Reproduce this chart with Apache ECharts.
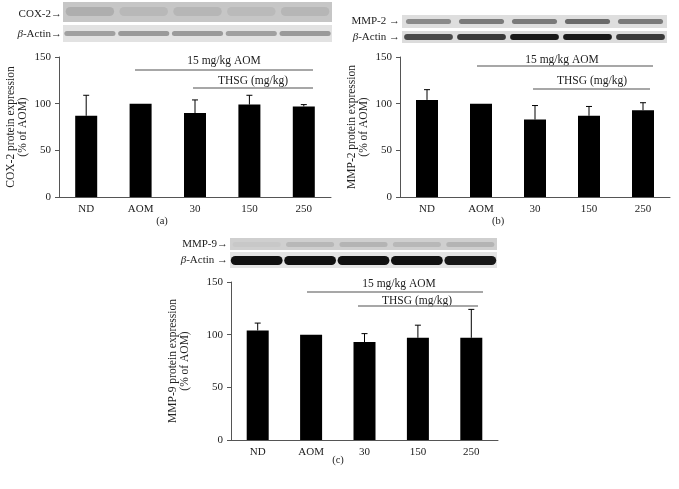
<!DOCTYPE html>
<html><head><meta charset="utf-8">
<script src="https://cdn.jsdelivr.net/npm/echarts@6/dist/echarts.min.js"></script>
<style>html,body{margin:0;padding:0;background:#fff}#c{width:679px;height:489px}</style>
</head><body><div id="c"></div>
<script>
var categories = ['ND', 'AOM', '30', '150', '250'];
var cox2Mean = [87, 100, 90, 99, 97];
var cox2Upper = [109, null, 104, 109, 99];
var mmp2Mean = [104, 100, 83, 87, 93];
var mmp2Upper = [115, null, 98, 97, 101];
var mmp9Mean = [104, 100, 93, 97, 97];
var mmp9Upper = [111, null, 101, 109, 124];
var yTicks = [0, 50, 100, 150];
var yNames = ['COX-2 protein expression\n(% of AOM)', 'MMP-2 protein expression\n(% of AOM)', 'MMP-9 protein expression\n(% of AOM)'];
var panelLabels = ['(a)', '(b)', '(c)'];
var blotLabels = [['COX-2\u2192', '{i|\u03b2}-Actin\u2192'], ['MMP-2 \u2192', '{i|\u03b2}-Actin \u2192'], ['MMP-9\u2192', '{i|\u03b2}-Actin \u2192']];

var FONT = '"Liberation Serif", "DejaVu Serif", serif';
var chart = echarts.init(document.getElementById('c'), null, {renderer: 'canvas'});

var grids = [
  {left: 59, top: 57, width: 272, height: 140},
  {left: 400, top: 57, width: 270, height: 140},
  {left: 231, top: 282, width: 267, height: 158}
];
var nameGaps = [30, 30, 40];
var means = [cox2Mean, mmp2Mean, mmp9Mean];
var uppers = [cox2Upper, mmp2Upper, mmp9Upper];

var xAxes = [], yAxes = [], series = [];
for (var g = 0; g < 3; g++) {
  xAxes.push({
    type: 'category', gridIndex: g, data: categories,
    axisLine: {lineStyle: {color: '#555', width: 1}},
    axisTick: {show: false},
    axisLabel: {color: '#222', fontFamily: FONT, fontSize: 11, margin: 7}
  });
  yAxes.push({
    type: 'value', gridIndex: g, min: yTicks[0], max: yTicks[yTicks.length - 1], interval: 50,
    name: yNames[g], nameLocation: 'middle', nameRotate: 90, nameGap: nameGaps[g],
    nameTextStyle: {color: '#222', fontFamily: FONT, fontSize: 11.5, lineHeight: 12},
    axisLine: {show: true, lineStyle: {color: '#555', width: 1}},
    axisTick: {show: true, length: 4, lineStyle: {color: '#555'}},
    splitLine: {show: false},
    axisLabel: {color: '#222', fontFamily: FONT, fontSize: 11, margin: 8}
  });
  series.push({
    type: 'bar', xAxisIndex: g, yAxisIndex: g, data: means[g], barWidth: 22,
    itemStyle: {color: '#000'}, silent: true
  });
  var ed = [];
  for (var i = 0; i < categories.length; i++) ed.push([i, means[g][i], uppers[g][i] == null ? '-' : uppers[g][i]]);
  series.push({
    type: 'custom', xAxisIndex: g, yAxisIndex: g, data: ed, z: 5, silent: true,
    renderItem: function (params, api) {
      var up = api.value(2);
      if (up == null || isNaN(up)) return null;
      var p0 = api.coord([api.value(0), api.value(1)]);
      var p1 = api.coord([api.value(0), up]);
      var st = {stroke: '#000', lineWidth: 1};
      return {type: 'group', children: [
        {type: 'line', shape: {x1: p0[0], y1: p0[1], x2: p1[0], y2: p1[1]}, style: st},
        {type: 'line', shape: {x1: p1[0] - 3, y1: p1[1], x2: p1[0] + 3, y2: p1[1]}, style: st}
      ]};
    }
  });
}

var graphic = [];
function txt(x, y, t, align, size) {
  graphic.push({type: 'text', x: x, y: y, style: {text: t, fill: '#222', font: (size || 11) + 'px ' + FONT,
    textAlign: align || 'center', textVerticalAlign: 'middle',
    rich: {i: {fontStyle: 'italic', fontFamily: FONT, fontSize: size || 11, fill: '#222'}}}});
}
function hline(x1, x2, y) {
  graphic.push({type: 'line', shape: {x1: x1, y1: y, x2: x2, y2: y}, style: {stroke: '#8a8a8a', lineWidth: 1.3}});
}
// annotations
txt(224, 61, '15 mg/kg AOM', 'center', 11.5); hline(135, 313, 70);
txt(253, 81, 'THSG (mg/kg)', 'center', 11.5); hline(193, 313, 88);
txt(562, 60, '15 mg/kg AOM', 'center', 11.5); hline(477, 653, 66);
txt(592, 81, 'THSG (mg/kg)', 'center', 11.5); hline(533, 650, 89);
txt(399, 284, '15 mg/kg AOM', 'center', 11.5); hline(307, 483, 292);
txt(417, 301, 'THSG (mg/kg)', 'center', 11.5); hline(358, 478, 306);
// panel labels
txt(162, 221, panelLabels[0], 'center', 10.5);
txt(498, 221, panelLabels[1], 'center', 10.5);
txt(338, 460, panelLabels[2], 'center', 10.5);

// blots (decorative)
function blot(x, y, w, h, bg, band, bandH, bandY, frac) {
  graphic.push({type: 'rect', shape: {x: x, y: y, width: w, height: h}, style: {fill: bg}});
  var lw = w / 5;
  for (var k = 0; k < 5; k++) {
    graphic.push({type: 'rect', shape: {x: x + k * lw + lw * (1 - frac) / 2, y: y + bandY, width: lw * frac, height: bandH, r: bandH / 2},
      style: {fill: band[k]}});
  }
}
blot(63, 2, 269, 20, '#c6c6c6', ['#aeaeae', '#b8b8b8', '#b6b6b6', '#bababa', '#b6b6b6'], 9, 5, 0.9);
blot(63, 25, 269, 17, '#e2e2e2', ['#a0a0a0', '#9a9a9a', '#9a9a9a', '#a0a0a0', '#9a9a9a'], 5, 6, 0.95);
blot(402, 15, 265, 13, '#dedede', ['#8a8a8a', '#7a7a7a', '#7a7a7a', '#6a6a6a', '#7a7a7a'], 5, 4, 0.85);
blot(402, 31, 265, 12, '#dcdcdc', ['#4a4a4a', '#3a3a3a', '#1a1a1a', '#1a1a1a', '#3a3a3a'], 6, 3, 0.92);
blot(230, 238, 267, 12, '#cfcfcf', ['#c8c8c8', '#b8b8b8', '#b4b4b4', '#b8b8b8', '#b4b4b4'], 5, 4, 0.9);
blot(230, 252, 267, 16, '#e4e4e4', ['#111', '#111', '#111', '#111', '#181818'], 9, 4, 0.97);
// blot labels
txt(62, 14, blotLabels[0][0], 'right'); txt(62, 34, blotLabels[0][1], 'right');
txt(400, 21, blotLabels[1][0], 'right'); txt(400, 37, blotLabels[1][1], 'right');
txt(228, 244, blotLabels[2][0], 'right'); txt(228, 260, blotLabels[2][1], 'right');

chart.setOption({
  animation: false,
  grid: grids, xAxis: xAxes, yAxis: yAxes, series: series, graphic: graphic
});
</script></body></html>
